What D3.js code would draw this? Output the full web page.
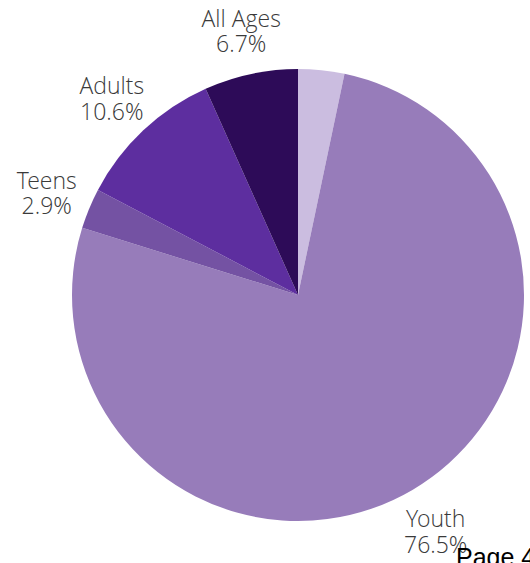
<!DOCTYPE html>
<html>
<head>
<meta charset="utf-8">
<script src="https://cdn.jsdelivr.net/npm/d3@7"></script>
<style>
  html, body { margin: 0; padding: 0; background: #fff; }
  svg { display: block; }
</style>
</head>
<body>
<svg id="chart" width="530" height="563"></svg>
<script>
// Audience share by age group, clockwise from 12 o'clock
const categories = ["Other", "Youth", "Teens", "Adults", "All Ages"];
const shares = [3.3, 76.5, 2.9, 10.6, 6.7];
const showLabel = [false, true, true, true, true];
const colors = ["#cbbde0", "#977cba", "#7452a3", "#5d2e9f", "#2d0b58"];

const width = 530, height = 563;
const cx = 298, cy = 295, radius = 226, labelRadius = 272;

const svg = d3.select("#chart");
const g = svg.append("g").attr("transform", `translate(${cx},${cy})`);

const data = categories.map((c, i) => ({ name: c, value: shares[i], color: colors[i], label: showLabel[i] }));

const pie = d3.pie().sort(null).value(d => d.value);
const arcs = pie(data);

const arc = d3.arc().innerRadius(0).outerRadius(radius);
const labelArc = d3.arc().innerRadius(labelRadius).outerRadius(labelRadius);

g.selectAll("path.slice")
  .data(arcs)
  .join("path")
  .attr("class", "slice")
  .attr("d", arc)
  .attr("fill", d => d.data.color);

const labels = g.selectAll("text.lbl")
  .data(arcs.filter(d => d.data.label))
  .join("text")
  .attr("class", "lbl")
  .attr("transform", d => `translate(${labelArc.centroid(d)})`)
  .attr("text-anchor", "middle")
  .style("font-family", "'Open Sans Light', 'Open Sans', sans-serif")
  .style("font-weight", 300)
  .style("font-size", "23px")
  .attr("fill", "#3a3a3a");

labels.append("tspan")
  .attr("x", 0)
  .attr("dy", "-0.1em")
  .text(d => d.data.name);
labels.append("tspan")
  .attr("x", 0)
  .attr("dy", "1.1em")
  .text(d => d3.format(".1f")(d.data.value) + "%");

svg.append("text")
  .attr("x", 456)
  .attr("y", 566)
  .style("font-family", "'Liberation Sans', Arial, sans-serif")
  .style("font-size", "25px")
  .attr("fill", "#000")
  .text("Page 4");
</script>
</body>
</html>
